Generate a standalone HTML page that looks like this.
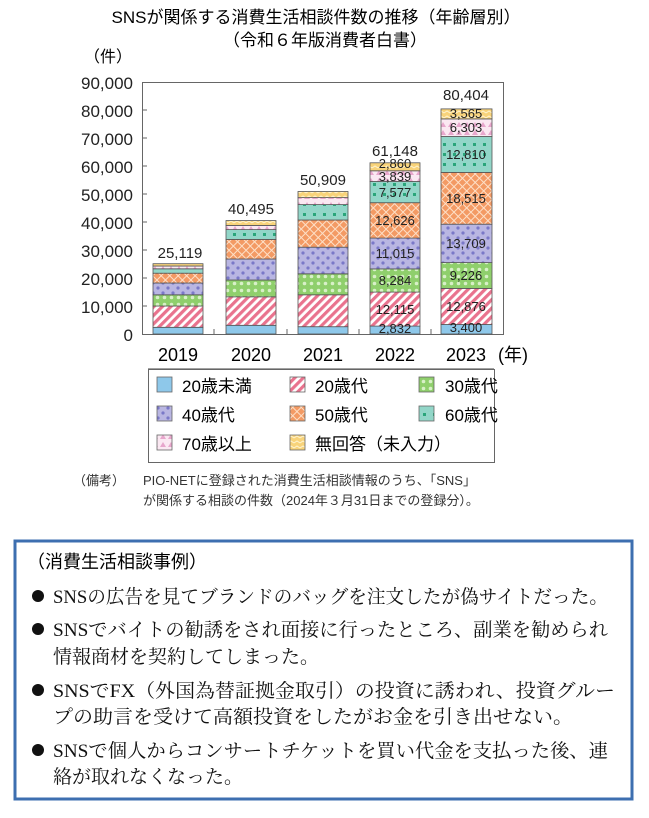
<!DOCTYPE html>
<html><head><meta charset="utf-8"><style>
body{margin:0;background:#fff;width:649px;height:813px;overflow:hidden;font-family:"Liberation Sans","Noto Sans CJK JP",sans-serif}
</style></head><body>
<svg width="649" height="813" xmlns="http://www.w3.org/2000/svg" font-family="Liberation Sans, Noto Sans CJK JP, sans-serif">
<defs>
<pattern id="p20" width="6" height="6" patternUnits="userSpaceOnUse" patternTransform="rotate(45)"><rect width="6" height="6" fill="#fff"/><rect width="3.2" height="6" fill="#e9738e"/></pattern>
<pattern id="p30" width="7" height="7" patternUnits="userSpaceOnUse"><rect width="7" height="7" fill="#8fcf6c"/><circle cx="3.5" cy="3.5" r="1.8" fill="#d8f0c8"/></pattern>
<pattern id="p40" width="10" height="10" patternUnits="userSpaceOnUse"><rect width="10" height="10" fill="#b9b6e2"/><circle cx="3" cy="3" r="1.6" fill="#7a78c8"/><circle cx="8" cy="8" r="1.6" fill="#7a78c8"/></pattern>
<pattern id="p50" width="6" height="6" patternUnits="userSpaceOnUse" patternTransform="rotate(45)"><rect width="6" height="6" fill="#f39a64"/><rect x="2.5" width="1" height="6" fill="#fde0c8"/><rect y="2.5" width="6" height="1" fill="#fde0c8"/></pattern>
<pattern id="p60" width="10" height="10" patternUnits="userSpaceOnUse"><rect width="10" height="10" fill="#92d6c8"/><rect x="3" y="3" width="3" height="3" fill="#2aa57a"/></pattern>
<pattern id="p70" width="8" height="8" patternUnits="userSpaceOnUse"><rect width="8" height="8" fill="#fbe8f2"/><path d="M0 7 L3 2 L6 7Z" fill="#e8a6cc"/></pattern>
<pattern id="pna" width="6" height="5" patternUnits="userSpaceOnUse"><rect width="6" height="5" fill="#f8d37a"/><path d="M0 3 L3 1 L6 3" stroke="#fff4cf" fill="none" stroke-width="1"/></pattern>
</defs>
<text x="316" y="23" font-size="17" text-anchor="middle">SNSが関係する消費生活相談件数の推移（年齢層別）</text>
<text x="325" y="46" font-size="17" text-anchor="middle">（令和６年版消費者白書）</text>
<text x="84" y="62" font-size="16">（件）</text>
<g font-size="17" text-anchor="end" fill="#222">
<text x="133" y="89">90,000</text><text x="133" y="117">80,000</text><text x="133" y="145">70,000</text>
<text x="133" y="173">60,000</text><text x="133" y="201">50,000</text><text x="133" y="229">40,000</text>
<text x="133" y="257">30,000</text><text x="133" y="285">20,000</text><text x="133" y="313">10,000</text>
<text x="133" y="341">0</text></g>
<rect x="142.5" y="82.5" width="361" height="252" fill="none" stroke="#666"/>
<g stroke="#666"><line x1="142" y1="110" x2="147" y2="110"/><line x1="142" y1="138" x2="147" y2="138"/><line x1="142" y1="166" x2="147" y2="166"/><line x1="142" y1="194" x2="147" y2="194"/><line x1="142" y1="222" x2="147" y2="222"/><line x1="142" y1="250" x2="147" y2="250"/><line x1="142" y1="278" x2="147" y2="278"/><line x1="142" y1="306" x2="147" y2="306"/>
<line x1="214" y1="329" x2="214" y2="334"/><line x1="287" y1="329" x2="287" y2="334"/><line x1="359" y1="329" x2="359" y2="334"/><line x1="431" y1="329" x2="431" y2="334"/></g>
<g stroke="#555" stroke-width="0.8">
<rect x="153" y="327.3" width="50" height="6.7" fill="#8ec8ea"/>
<rect x="153" y="306" width="50" height="21.3" fill="url(#p20)"/>
<rect x="153" y="294.8" width="50" height="11.2" fill="url(#p30)"/>
<rect x="153" y="283" width="50" height="11.8" fill="url(#p40)"/>
<rect x="153" y="273.2" width="50" height="9.8" fill="url(#p50)"/>
<rect x="153" y="268.8" width="50" height="4.4" fill="url(#p60)"/>
<rect x="153" y="266" width="50" height="2.8" fill="url(#p70)"/>
<rect x="153" y="263.7" width="50" height="2.3" fill="url(#pna)"/>
<rect x="226" y="325.3" width="50" height="8.7" fill="#8ec8ea"/>
<rect x="226" y="296.8" width="50" height="28.5" fill="url(#p20)"/>
<rect x="226" y="280" width="50" height="16.8" fill="url(#p30)"/>
<rect x="226" y="259" width="50" height="21" fill="url(#p40)"/>
<rect x="226" y="239.4" width="50" height="19.6" fill="url(#p50)"/>
<rect x="226" y="229.6" width="50" height="9.8" fill="url(#p60)"/>
<rect x="226" y="225.4" width="50" height="4.2" fill="url(#p70)"/>
<rect x="226" y="220.6" width="50" height="4.8" fill="url(#pna)"/>
<rect x="298" y="326.7" width="50" height="7.3" fill="#8ec8ea"/>
<rect x="298" y="294.8" width="50" height="31.9" fill="url(#p20)"/>
<rect x="298" y="273.8" width="50" height="21" fill="url(#p30)"/>
<rect x="298" y="247.2" width="50" height="26.6" fill="url(#p40)"/>
<rect x="298" y="220" width="50" height="27.2" fill="url(#p50)"/>
<rect x="298" y="204.6" width="50" height="15.4" fill="url(#p60)"/>
<rect x="298" y="197.6" width="50" height="7" fill="url(#p70)"/>
<rect x="298" y="191.5" width="50" height="6.1" fill="url(#pna)"/>
<rect x="370" y="326.1" width="50" height="7.9" fill="#8ec8ea"/>
<rect x="370" y="292.1" width="50" height="34" fill="url(#p20)"/>
<rect x="370" y="268.9" width="50" height="23.2" fill="url(#p30)"/>
<rect x="370" y="238.1" width="50" height="30.8" fill="url(#p40)"/>
<rect x="370" y="202.7" width="50" height="35.4" fill="url(#p50)"/>
<rect x="370" y="181.5" width="50" height="21.2" fill="url(#p60)"/>
<rect x="370" y="170.8" width="50" height="10.7" fill="url(#p70)"/>
<rect x="370" y="162.8" width="50" height="8" fill="url(#pna)"/>
<rect x="441" y="324.5" width="51" height="9.5" fill="#8ec8ea"/>
<rect x="441" y="288.4" width="51" height="36.1" fill="url(#p20)"/>
<rect x="441" y="262.6" width="51" height="25.8" fill="url(#p30)"/>
<rect x="441" y="224.2" width="51" height="38.4" fill="url(#p40)"/>
<rect x="441" y="172.4" width="51" height="51.8" fill="url(#p50)"/>
<rect x="441" y="136.5" width="51" height="35.9" fill="url(#p60)"/>
<rect x="441" y="118.9" width="51" height="17.6" fill="url(#p70)"/>
<rect x="441" y="108.9" width="51" height="10" fill="url(#pna)"/>
</g>
<g font-size="15" text-anchor="middle" fill="#222">
<text x="180" y="258">25,119</text><text x="251" y="214">40,495</text><text x="323" y="185">50,909</text>
<text x="395" y="156">61,148</text><text x="466" y="100">80,404</text>
<g font-size="13">
<text x="395" y="333">2,832</text><text x="395" y="314">12,115</text><text x="395" y="285">8,284</text><text x="395" y="258">11,015</text><text x="395" y="225">12,626</text><text x="395" y="197">7,577</text><text x="395" y="181">3,839</text><text x="395" y="168">2,860</text>
<text x="466" y="332">3,400</text><text x="466" y="311">12,876</text><text x="466" y="280">9,226</text><text x="466" y="248">13,709</text><text x="466" y="203">18,515</text><text x="466" y="159">12,810</text><text x="466" y="132">6,303</text><text x="466" y="118">3,565</text></g></g>
<g font-size="18" text-anchor="middle"><text x="178" y="361">2019</text><text x="251" y="361">2020</text><text x="323" y="361">2021</text><text x="395" y="361">2022</text><text x="466" y="361">2023</text><text x="513" y="361">(年)</text></g>
<line x1="148" y1="369" x2="494" y2="369" stroke="#444"/>
<rect x="148.5" y="369.5" width="346" height="93" fill="none" stroke="#666"/>
<g stroke="#666" stroke-width="0.8">
<rect x="157" y="377" width="15" height="15" fill="#8ec8ea"/><rect x="290" y="377" width="15" height="15" fill="url(#p20)"/><rect x="419" y="377" width="15" height="15" fill="url(#p30)"/>
<rect x="157" y="406" width="15" height="15" fill="url(#p40)"/><rect x="290" y="406" width="15" height="15" fill="url(#p50)"/><rect x="419" y="406" width="15" height="15" fill="url(#p60)"/>
<rect x="157" y="435" width="15" height="15" fill="url(#p70)"/><rect x="290" y="435" width="15" height="15" fill="url(#pna)"/></g>
<g font-size="17"><text x="182" y="392">20歳未満</text><text x="315" y="392">20歳代</text><text x="445" y="392">30歳代</text>
<text x="182" y="421">40歳代</text><text x="315" y="421">50歳代</text><text x="445" y="421">60歳代</text>
<text x="182" y="450">70歳以上</text><text x="315" y="450">無回答（未入力）</text></g>
<g font-size="13" fill="#333"><text x="73" y="485">（備考）</text><text x="143" y="485">PIO-NETに登録された消費生活相談情報のうち、「SNS」</text><text x="143" y="505">が関係する相談の件数（2024年３月31日までの登録分）。</text></g>
<rect x="15" y="541" width="617" height="258" fill="none" stroke="#3d6fb0" stroke-width="3"/>
<text x="27" y="568" font-size="18">（消費生活相談事例）</text>
<g font-size="19" font-family="Liberation Serif, Noto Serif CJK JP, serif" fill="#111">
<circle cx="38" cy="596" r="6"/><circle cx="38" cy="629" r="6"/><circle cx="38" cy="690" r="6"/><circle cx="38" cy="750" r="6"/>
<text x="53" y="603" textLength="555" lengthAdjust="spacingAndGlyphs">SNSの広告を見てブランドのバッグを注文したが偽サイトだった。</text>
<text x="53" y="636" textLength="555" lengthAdjust="spacingAndGlyphs">SNSでバイトの勧誘をされ面接に行ったところ、副業を勧められ</text>
<text x="53" y="663">情報商材を契約してしまった。</text>
<text x="53" y="697" textLength="562" lengthAdjust="spacingAndGlyphs">SNSでFX（外国為替証拠金取引）の投資に誘われ、投資グルー</text>
<text x="53" y="723" textLength="520" lengthAdjust="spacingAndGlyphs">プの助言を受けて高額投資をしたがお金を引き出せない。</text>
<text x="53" y="757" textLength="555" lengthAdjust="spacingAndGlyphs">SNSで個人からコンサートチケットを買い代金を支払った後、連</text>
<text x="53" y="783">絡が取れなくなった。</text></g>
</svg>
</body></html>
